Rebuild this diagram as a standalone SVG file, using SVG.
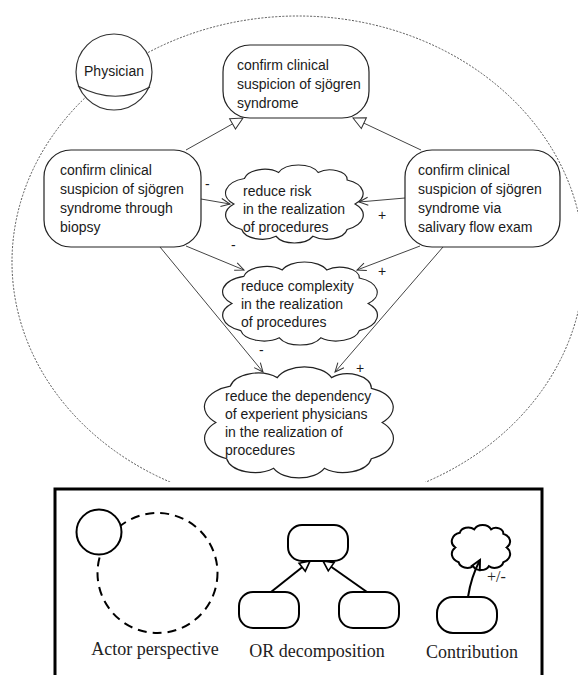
<svg xmlns="http://www.w3.org/2000/svg" width="578" height="675" viewBox="0 0 578 675">
<style>
.t{font-family:"Liberation Sans",Arial,sans-serif;font-size:14px;fill:#1a1a1a}
.lg{font-family:"Liberation Serif","Times New Roman",serif;font-size:18px;fill:#222}
.node{fill:#fff;stroke:#222;stroke-width:1.2}
.cloud{fill:#fff;stroke:#222;stroke-width:1.2;vector-effect:non-scaling-stroke}
.con{fill:none;stroke:#444;stroke-width:1}
.or{fill:none;stroke:#444;stroke-width:1}
.lgs{fill:#fff;stroke:#000;stroke-width:2}
</style>
<defs>
<clipPath id="clipTop"><rect x="0" y="0" width="578" height="482"/></clipPath>
<marker id="vhead" markerUnits="userSpaceOnUse" markerWidth="12" markerHeight="10" refX="9" refY="4" orient="auto" overflow="visible">
<path d="M0,0 L9,4 L0,8" fill="none" stroke="#333" stroke-width="1"/>
</marker>
<marker id="tri" markerUnits="userSpaceOnUse" markerWidth="14" markerHeight="14" refX="12" refY="6" orient="auto" overflow="visible">
<path d="M0,0 L12,6 L0,12 Z" fill="#fff" stroke="#333" stroke-width="1"/>
</marker>
<marker id="triL" markerUnits="userSpaceOnUse" markerWidth="14" markerHeight="14" refX="10" refY="5" orient="auto" overflow="visible">
<path d="M0,0 L10,5 L0,10 Z" fill="#fff" stroke="#000" stroke-width="1.6"/>
</marker>
<marker id="vheadL" markerUnits="userSpaceOnUse" markerWidth="14" markerHeight="14" refX="10" refY="5" orient="auto" overflow="visible">
<path d="M0,0 L10,5 L0,10" fill="none" stroke="#000" stroke-width="2"/>
</marker>
</defs>

<g id="actor-boundary" clip-path="url(#clipTop)">
<ellipse cx="298" cy="262" rx="286" ry="246" fill="none" stroke="#555" stroke-width="1" stroke-dasharray="2,1.5"/>
</g>

<g id="connectors">
<line class="or" x1="186" y1="150" x2="243" y2="118" marker-end="url(#tri)"/>
<line class="or" x1="421" y1="150" x2="353" y2="118" marker-end="url(#tri)"/>
<line class="con" x1="201" y1="199" x2="230" y2="204" marker-end="url(#vhead)"/>
<line class="con" x1="405" y1="198" x2="359" y2="202" marker-end="url(#vhead)"/>
<line class="con" x1="186" y1="246" x2="244" y2="270" marker-end="url(#vhead)"/>
<line class="con" x1="420" y1="246" x2="357" y2="270" marker-end="url(#vhead)"/>
<line class="con" x1="160" y1="247" x2="263" y2="372" marker-end="url(#vhead)"/>
<line class="con" x1="443" y1="247" x2="335" y2="372" marker-end="url(#vhead)"/>
<text class="t" x="205" y="189">-</text>
<text class="t" x="378" y="220">+</text>
<text class="t" x="231" y="250">-</text>
<text class="t" x="378" y="276">+</text>
<text class="t" x="259" y="355">-</text>
<text class="t" x="356" y="373">+</text>
</g>

<g id="physician">
<circle cx="114" cy="72" r="38" fill="#fff" stroke="#333" stroke-width="1.2"/>
<path d="M78,86 Q115,106 150,87" fill="none" stroke="#333" stroke-width="1.2"/>
<text class="t" x="114" y="76" text-anchor="middle">Physician</text>
</g>

<g id="goal-confirm">
<rect class="node" x="223" y="45" width="146" height="73" rx="27"/>
<text class="t" x="237" y="70">confirm clinical</text>
<text class="t" x="237" y="89">suspicion of sjögren</text>
<text class="t" x="237" y="108">syndrome</text>
</g>

<g id="goal-biopsy">
<rect class="node" x="44" y="150" width="157" height="97" rx="27"/>
<text class="t" x="60" y="175">confirm clinical</text>
<text class="t" x="60" y="194">suspicion of sjögren</text>
<text class="t" x="60" y="213">syndrome through</text>
<text class="t" x="60" y="232">biopsy</text>
</g>

<g id="goal-salivary">
<rect class="node" x="405" y="150" width="155" height="97" rx="27"/>
<text class="t" x="418" y="175">confirm clinical</text>
<text class="t" x="418" y="194">suspicion of sjögren</text>
<text class="t" x="418" y="213">syndrome via</text>
<text class="t" x="418" y="232">salivary flow exam</text>
</g>

<g id="softgoal-risk">
<path class="cloud" transform="translate(228.6,166.5) scale(1.317,0.75)" d="M4,50 A20.2,20.2 0 0 1 12,16 A15.6,15.6 0 0 1 38,8 A16.25,16.25 0 0 1 68,8 A13.1,13.1 0 0 1 90,18 A19.3,19.3 0 0 1 96,50 A21,21 0 0 1 90,84 A15.8,15.8 0 0 1 64,93 A15.4,15.4 0 0 1 36,93 A15.8,15.8 0 0 1 10,84 A21,21 0 0 1 4,50 Z"/>
<text class="t" x="243" y="196">reduce risk</text>
<text class="t" x="243" y="214">in the realization</text>
<text class="t" x="243" y="232">of procedures</text>
</g>

<g id="softgoal-complexity">
<path class="cloud" transform="translate(226,263.6) scale(1.481,0.798)" d="M4,50 A20.2,20.2 0 0 1 12,16 A15.6,15.6 0 0 1 38,8 A16.25,16.25 0 0 1 68,8 A13.1,13.1 0 0 1 90,18 A19.3,19.3 0 0 1 96,50 A21,21 0 0 1 90,84 A15.8,15.8 0 0 1 64,93 A15.4,15.4 0 0 1 36,93 A15.8,15.8 0 0 1 10,84 A21,21 0 0 1 4,50 Z"/>
<text class="t" x="241" y="291">reduce complexity</text>
<text class="t" x="241" y="309">in the realization</text>
<text class="t" x="241" y="327">of procedures</text>
</g>

<g id="softgoal-dependency">
<path class="cloud" transform="translate(208.6,369.1) scale(1.808,1.067)" d="M4,50 A20.2,20.2 0 0 1 12,16 A15.6,15.6 0 0 1 38,8 A16.25,16.25 0 0 1 68,8 A13.1,13.1 0 0 1 90,18 A19.3,19.3 0 0 1 96,50 A21,21 0 0 1 90,84 A15.8,15.8 0 0 1 64,93 A15.4,15.4 0 0 1 36,93 A15.8,15.8 0 0 1 10,84 A21,21 0 0 1 4,50 Z"/>
<text class="t" x="225" y="401">reduce the dependency</text>
<text class="t" x="225" y="419">of experient physicians</text>
<text class="t" x="225" y="437">in the realization of</text>
<text class="t" x="225" y="455">procedures</text>
</g>

<g id="legend">
<rect x="55" y="489" width="487" height="210" fill="#fff" stroke="#000" stroke-width="3"/>
<g id="legend-actor">
<circle cx="157.5" cy="573" r="60" fill="none" stroke="#000" stroke-width="2" stroke-dasharray="9,6"/>
<circle cx="99" cy="532" r="22.5" class="lgs"/>
<text class="lg" x="155" y="655" text-anchor="middle">Actor perspective</text>
</g>
<g id="legend-or">
<line x1="271" y1="592" x2="310" y2="561" stroke="#000" stroke-width="2" marker-end="url(#triL)"/>
<line x1="367" y1="592" x2="323" y2="561" stroke="#000" stroke-width="2" marker-end="url(#triL)"/>
<rect class="lgs" x="288" y="525" width="60" height="36" rx="14"/>
<rect class="lgs" x="239" y="592" width="60" height="36" rx="14"/>
<rect class="lgs" x="339" y="592" width="60" height="36" rx="14"/>
<text class="lg" x="317" y="657" text-anchor="middle">OR decomposition</text>
</g>
<g id="legend-contribution">
<path transform="translate(453.1,525.9) scale(0.558,0.433)" fill="#fff" stroke="#000" stroke-width="2" vector-effect="non-scaling-stroke" d="M4,50 A20.2,20.2 0 0 1 12,16 A15.6,15.6 0 0 1 38,8 A16.25,16.25 0 0 1 68,8 A13.1,13.1 0 0 1 90,18 A19.3,19.3 0 0 1 96,50 A21,21 0 0 1 90,84 A15.8,15.8 0 0 1 64,93 A15.4,15.4 0 0 1 36,93 A15.8,15.8 0 0 1 10,84 A21,21 0 0 1 4,50 Z"/>
<path d="M468,597 Q471,577 480,560" fill="none" stroke="#000" stroke-width="2" marker-end="url(#vheadL)"/>
<rect class="lgs" x="437" y="597" width="60" height="36" rx="16"/>
<text class="lg" x="487" y="582" style="font-size:16px">+/-</text>
<text class="lg" x="472" y="658" text-anchor="middle">Contribution</text>
</g>
</g>
</svg>
